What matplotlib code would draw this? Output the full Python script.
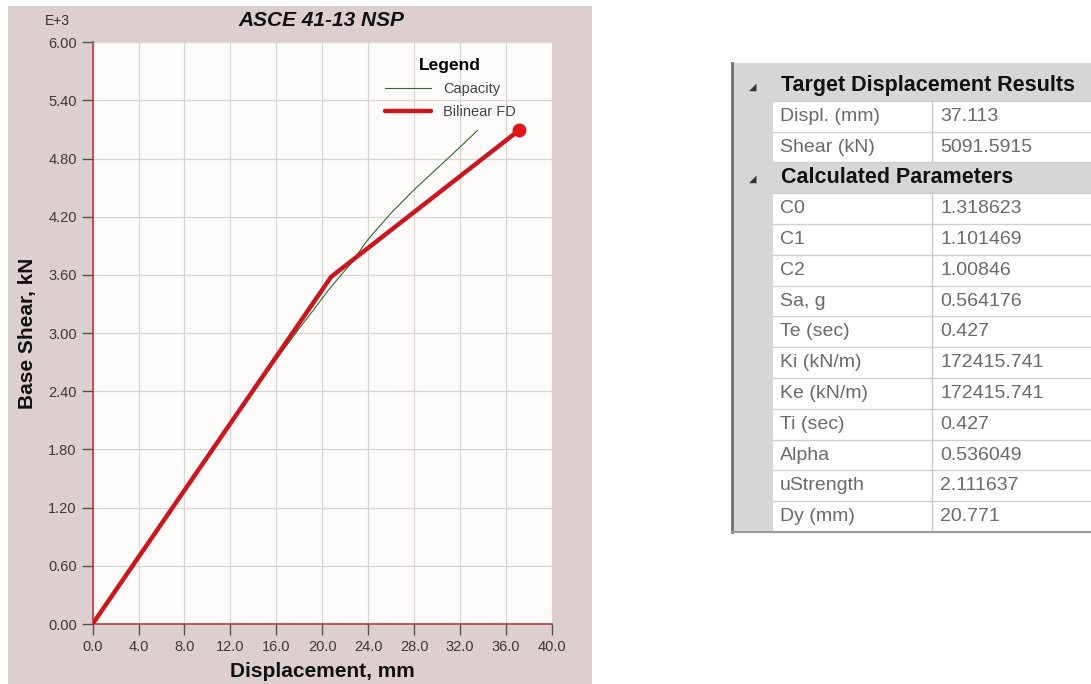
import matplotlib
matplotlib.use("Agg")
from matplotlib import pyplot as plt
from matplotlib.patches import Rectangle
from matplotlib.lines import Line2D
import numpy as np

# pushover capacity curve (mm, kN)
capacity_disp = [0.0, 4.0, 8.0, 12.0, 16.0, 18.0, 19.5, 20.5, 21.5, 22.5, 24.0, 26.0, 28.0, 30.0, 32.0, 33.5]
capacity_shear = [0, 690, 1375, 2055, 2730, 3050, 3280, 3440, 3580, 3720, 3970, 4240, 4480, 4700, 4920, 5090]

# bilinear force-displacement (origin, yield point Dy, target point)
bilinear_disp = [0.0, 20.771, 37.113]
bilinear_shear = [0.0, 3581.3, 5091.5915]

x_ticks = np.arange(0, 40.1, 4.0)
y_ticks = np.arange(0, 6.01, 0.6)

# property grid on the right
section_titles = ["Target Displacement Results", "Calculated Parameters"]
target_names = ["Displ. (mm)", "Shear (kN)"]
target_values = ["37.113", "5091.5915"]
param_names = ["C0", "C1", "C2", "Sa, g", "Te (sec)", "Ki (kN/m)", "Ke (kN/m)",
               "Ti (sec)", "Alpha", "uStrength", "Dy (mm)"]
param_values = ["1.318623", "1.101469", "1.00846", "0.564176", "0.427", "172415.741",
                "172415.741", "0.427", "0.536049", "2.111637", "20.771"]

W, H = 1091, 684
fig = plt.figure(figsize=(W / 100, H / 100), dpi=100)
fig.patch.set_facecolor("white")


def px(x, y):
    return x / W, 1 - y / H


# chart panel background
fig.patches.append(Rectangle(px(8, 684), 584 / W, 678 / H, transform=fig.transFigure,
                             facecolor="#dccfcf", edgecolor="none", zorder=-5))

ax = fig.add_axes([92.6 / W, 60 / H, 459.4 / W, 581.7 / H])
ax.set_zorder(2)
ax.set_facecolor("#fdfafa")

ax.plot(capacity_disp, np.array(capacity_shear) / 1000, color="#2f6a2a", lw=0.8,
        label="Capacity", zorder=3)
ax.plot(bilinear_disp, np.array(bilinear_shear) / 1000, color="#c8171e", lw=3.2,
        solid_capstyle="round", label="Bilinear FD", zorder=4)
ax.plot(bilinear_disp[-1], bilinear_shear[-1] / 1000, "o", color="#e0161c", ms=9, zorder=5,
        clip_on=False)

ax.set_xlim(0, 40)
ax.set_ylim(0, 6)
ax.set_xticks(x_ticks)
ax.set_yticks(y_ticks)
ax.set_xticklabels([f"{v:.1f}" for v in x_ticks])
ax.set_yticklabels([f"{v:.2f}" for v in y_ticks])
ax.tick_params(axis="both", length=8, width=1, color="#505050", labelcolor="#3a3a3a",
               labelsize=10.5, direction="out")
for lab in ax.get_xticklabels() + ax.get_yticklabels():
    lab.set_family("Liberation Sans")
ax.grid(True, color="#dcd3d3", lw=0.9)
ax.set_axisbelow(True)
for side in ["top", "right"]:
    ax.spines[side].set_visible(False)
for side in ["left", "bottom"]:
    ax.spines[side].set_color("#c0393f")
    ax.spines[side].set_linewidth(1.2)

ax.set_xlabel("Displacement, mm", family="Liberation Sans", fontsize=15, fontweight="bold",
              color="#111111", labelpad=6)
ax.set_ylabel("Base Shear, kN", family="Liberation Sans", fontsize=15, fontweight="bold",
              color="#111111", labelpad=8)

fig.text(*px(321, 21), "ASCE 41-13 NSP", ha="center", va="center", family="Liberation Sans",
         fontsize=15, fontweight="bold", fontstyle="italic", color="#111111")
fig.text(*px(57, 21), "E+3", ha="center", va="center", family="Liberation Sans",
         fontsize=10, color="#333333")

leg = ax.legend(loc="upper right", bbox_to_anchor=(0.95, 0.995), frameon=False,
                title="Legend", handlelength=3.2, labelspacing=0.6,
                prop={"family": "Liberation Sans", "size": 10.5})
leg.get_title().set_fontweight("bold")
leg.get_title().set_fontsize(12.5)
leg.get_title().set_family("Liberation Sans")
for t in leg.get_texts():
    t.set_color("#444444")

# ---- property grid ----
left, strip_r, col_split, right = 732, 773, 932, 1091
top, row_h = 70, 30.8
rows = [(section_titles[0], None, True)]
rows += [(n, v, False) for n, v in zip(target_names, target_values)]
rows += [(section_titles[1], None, True)]
rows += [(n, v, False) for n, v in zip(param_names, param_values)]

# sliver of the row above, and gray left strip
fig.patches.append(Rectangle(px(left, top), (right - left) / W, 7 / H, transform=fig.transFigure,
                             facecolor="#d6d6d6", edgecolor="none"))
bottom = top + row_h * len(rows)
fig.patches.append(Rectangle(px(left, bottom), (strip_r - left) / W, (bottom - top) / H,
                             transform=fig.transFigure, facecolor="#d6d6d6", edgecolor="none"))

for i, (name, value, is_header) in enumerate(rows):
    y0 = top + i * row_h
    yc = y0 + row_h / 2
    if is_header:
        fig.patches.append(Rectangle(px(left, y0 + row_h), (right - left) / W, row_h / H,
                                     transform=fig.transFigure, facecolor="#d6d6d6",
                                     edgecolor="none"))
        fig.text(*px(753, yc + 1), "\u25e2", ha="center", va="center", fontsize=7,
                 color="#333333", family="DejaVu Sans")
        fig.text(*px(781, yc), name, ha="left", va="center", family="Liberation Sans",
                 fontsize=15.5, fontweight="bold", color="#111111")
    else:
        fig.text(*px(780, yc), name, ha="left", va="center", family="Liberation Sans",
                 fontsize=14, color="#6a6a6a")
        fig.text(*px(940, yc), value, ha="left", va="center", family="Liberation Sans",
                 fontsize=14, color="#6a6a6a")
        fig.lines.append(Line2D([col_split / W] * 2, [1 - y0 / H, 1 - (y0 + row_h) / H],
                                transform=fig.transFigure, color="#c8c8c8", lw=1))
    fig.lines.append(Line2D([strip_r / W, 1], [1 - (y0 + row_h) / H] * 2,
                            transform=fig.transFigure, color="#cfcfcf", lw=1))

fig.lines.append(Line2D([left / W] * 2, [1 - 63 / H, 1 - bottom / H], transform=fig.transFigure,
                        color="#6f6f6f", lw=2))
fig.lines.append(Line2D([left / W, 1], [1 - bottom / H] * 2, transform=fig.transFigure,
                        color="#9a9a9a", lw=1.5))

fig.savefig("out.png", dpi=100)
